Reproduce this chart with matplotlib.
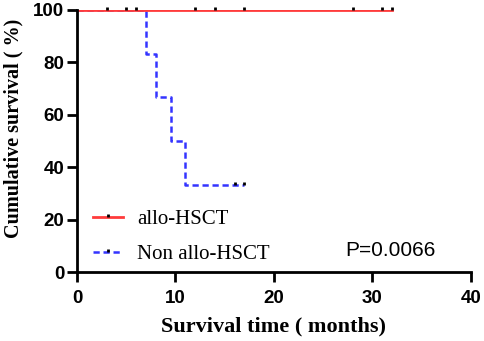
import numpy as np
import matplotlib
matplotlib.use("Agg")
import matplotlib.pyplot as plt
from matplotlib.lines import Line2D

# step curves (months, survival %)
allo_times = [0, 32]
allo_surv = [100, 100]
allo_censor = [3, 5, 6, 12, 14, 17, 28, 31, 32]

non_times = [0, 7, 8, 9.5, 11, 17]
non_surv = [100, 83.3, 66.7, 50.0, 33.3, 33.3]
non_censor = [16, 17]

red = '#ff3b3b'
blue = '#3434ff'
tick_mark = [(0, 0), (0, 1)]
dash = (0, (2.5, 1.5))

fig = plt.figure(figsize=(4.84, 3.41), dpi=100)
ax = fig.add_axes([0.159, 0.202, 0.814, 0.769])

ax.step(non_times, non_surv, where='post', color=blue, lw=1.8, ls=dash)
ax.step(allo_times, allo_surv, where='post', color=red, lw=2)

ax.plot(allo_censor, [100] * len(allo_censor), ls='none', marker=tick_mark,
        ms=5, mec='black', mew=2, clip_on=False)
non_y = [non_surv[-1]] * len(non_censor)
ax.plot(non_censor, non_y, ls='none', marker=tick_mark,
        ms=5, mec='black', mew=2, clip_on=False)

ax.set_xlim(0, 40)
ax.set_ylim(0, 100)
ax.set_xticks([0, 10, 20, 30, 40])
ax.set_yticks([0, 20, 40, 60, 80, 100])

for s in ['top', 'right']:
    ax.spines[s].set_visible(False)
for s in ['left', 'bottom']:
    ax.spines[s].set_linewidth(2)
ax.tick_params(width=2, length=7, direction='out')
ax.tick_params(axis='x', pad=6)
ax.tick_params(axis='y', pad=2)
for lab in ax.get_xticklabels() + ax.get_yticklabels():
    lab.set_fontfamily('Liberation Sans')
    lab.set_fontweight('bold')
    lab.set_fontsize(13.5)

ax.set_xlabel('Survival time ( months)', family='Liberation Serif',
              weight='bold', size=16, labelpad=7)
ax.set_ylabel('Cumulative survival ( %)', family='Liberation Serif',
              weight='bold', size=14.5, labelpad=6)
ax.yaxis.set_label_coords(-0.135, 0.55)

handles = [
    Line2D([], [], color=red, lw=2, marker=tick_mark, ms=5, mec='black', mew=2),
    Line2D([], [], color=blue, lw=1.8, ls=dash, marker=tick_mark, ms=5, mec='black', mew=2),
]
ax.legend(handles, ['allo-HSCT', 'Non allo-HSCT'], loc='lower left',
          bbox_to_anchor=(-0.006, -0.04), frameon=False, numpoints=1,
          prop=dict(family='Liberation Serif', size=15), handlelength=1.4,
          handletextpad=0.7, labelspacing=0.74)

ax.text(0.68, 0.084, 'P=0.0066', transform=ax.transAxes, va='center',
        family='Liberation Sans', size=15)

fig.savefig('out.png', dpi=100)
